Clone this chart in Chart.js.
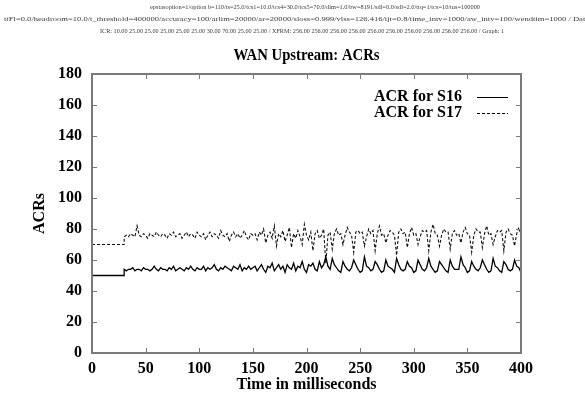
<!DOCTYPE html>
<html>
<head>
<meta charset="utf-8">
<script src="https://cdn.jsdelivr.net/npm/chart.js@4"></script>
<style>
  html, body { margin: 0; padding: 0; background: #fff; }
  #wrap { width: 585px; height: 396px; }
</style>
</head>
<body>
<div id="wrap"><canvas id="acrChart" width="585" height="396"></canvas></div>
<script>
// header lines printed above the plot
const headerLines = [
    "epstasoption=1/option b=110/ts=25.0/tcs1=10.0/tcs4=30.0/tcs5=70.0/dim=1.0/bw=8191/sdl=0.0/sdl=2.0/ttq=1/tcs=10/tus=100000",
    "ttFl=0.0/headroom=10.0/t_threshold=400000/accuracy=100/arlim=20000/ar=20000/sloss=0.999/vlss=126.416/ijt=0.8/time_intv=1000/aw_intv=100/wendtim=1000 / Date:05",
    "ICR: 10.00 25.00 25.00 25.00 25.00 25.00 30.00 70.00 25.00 25.00 / XFRM: 256.00 256.00 256.00 256.00 256.00 256.00 256.00 256.00 256.00 256.00 / Graph: 1"
];
const chartTitle = "WAN Upstream: ACRs";
const seriesNames = ["ACR for S16", "ACR for S17"];
const xTicks = [0, 50, 100, 150, 200, 250, 300, 350, 400];
const yTicks = [0, 20, 40, 60, 80, 100, 120, 140, 160, 180];

// sample times (ms): start, step at 30, then every 2 ms
const timeMs = [0, 30];
for (let t = 30; t <= 400; t += 2) timeMs.push(t);

const acrS16 = [50, 50,
    54,53,54,54,55,53,54,54,53,55,
    54,54,53,54,56,54,53,55,54,54,
    53,55,54,56,53,54,55,54,53,55,
    54,56,54,53,55,54,54,56,53,55,
    54,55,57,54,53,55,54,56,55,54,
    53,56,55,54,57,53,55,54,56,54,
    55,
    56,53,55,57,54,52,56,55,58,53,
    55,57,54,56,52,57,55,54,58,53,
    56,55,59,54,52,57,56,58,54,53,
    59,55,57,62,56,
    54,61,57,55,53,
    52,59,56,54,53,
    55,60,57,54,52,
    53,62,56,55,53,
    54,59,57,54,52,
    53,60,56,55,54,
    52,61,57,54,53,
    54,59,56,55,52,
    53,60,57,54,53,
    55,61,56,54,52,
    53,59,57,55,53,
    52,60,56,54,54,
    54,62,57,55,52,
    53,59,56,54,53,
    55,60,57,54,52,
    53,61,56,55,53,
    52,59,57,54,53,
    54,60,56,55,52
];

const acrS17 = [70, 70,
    75,76,75,77,76,75,82,76,75,77,
    76,74,77,76,75,78,76,75,77,76,
    74,77,76,78,75,76,77,74,76,78,
    75,77,76,74,78,76,75,77,73,76,
    78,75,77,76,74,79,76,75,77,72,
    76,78,75,77,74,76,79,75,73,77,
    76,
    77,73,78,76,80,71,76,78,74,82,
    69,77,75,79,72,76,81,68,77,74,
    79,75,70,83,76,73,78,66,77,79,
    74,76,80,58,76,
    78,67,77,80,76,
    77,70,76,81,78,
    76,65,78,79,77,
    78,69,75,80,77,
    79,66,77,82,76,
    77,71,76,79,78,
    76,63,78,80,77,
    78,68,77,81,76,
    77,70,75,79,78,
    79,66,78,83,77,
    76,69,76,80,78,
    78,67,77,79,76,
    77,71,78,81,77,
    76,65,76,80,78,
    78,68,77,82,76,
    77,70,75,79,78,
    79,66,78,80,77,
    76,69,77,81,76
];

const serif = "'Liberation Serif', 'DejaVu Serif', serif";
const frameColor = '#7a7a7a';

/**
 * Writes one line of text stretched or squeezed to a given width.
 */
function fillFitted(ctx, text, x, y, width) {
    const w = ctx.measureText(text).width;
    ctx.save();
    ctx.translate(x, y);
    ctx.scale(width / w, 1);
    ctx.textAlign = 'left';
    ctx.fillText(text, 0, 0);
    ctx.restore();
}

/**
 * Draws frame, inward ticks, header text, title and legend.
 */
const gnuplotLook = {
    id: 'gnuplotLook',
    afterDraw(chart) {
        const ctx = chart.ctx;
        const area = chart.chartArea;
        const xs = chart.scales.x;
        const ys = chart.scales.y;
        ctx.save();

        // frame
        ctx.strokeStyle = frameColor;
        ctx.lineWidth = 2;
        ctx.strokeRect(area.left, area.top, area.right - area.left, area.bottom - area.top);

        // ticks pointing inward on all four sides
        ctx.lineWidth = 1;
        ctx.beginPath();
        xTicks.forEach(v => {
            const px = Math.round(xs.getPixelForValue(v)) + 0.5;
            ctx.moveTo(px, area.bottom); ctx.lineTo(px, area.bottom - 5);
            ctx.moveTo(px, area.top); ctx.lineTo(px, area.top + 5);
        });
        yTicks.forEach(v => {
            const py = Math.round(ys.getPixelForValue(v)) + 0.5;
            ctx.moveTo(area.left, py); ctx.lineTo(area.left + 5, py);
            ctx.moveTo(area.right, py); ctx.lineTo(area.right - 5, py);
        });
        ctx.stroke();

        // header lines
        ctx.fillStyle = '#3a3a3a';
        ctx.textBaseline = 'middle';
        ctx.font = "6px " + serif;
        fillFitted(ctx, headerLines[0], 150, 7, 330);
        fillFitted(ctx, headerLines[1], 4, 19, 596);
        fillFitted(ctx, headerLines[2], 100, 31, 404);

        // title
        ctx.fillStyle = '#000';
        ctx.textAlign = 'center';
        ctx.font = "bold 17px " + serif;
        ctx.fillText(chartTitle, (area.left + area.right) / 2, 56, 146);

        // legend inside plot, top right
        ctx.font = "bold 16px " + serif;
        ctx.textAlign = 'right';
        const rows = [97, 113];
        chart.data.datasets.forEach((ds, i) => {
            ctx.fillStyle = '#000';
            ctx.fillText(seriesNames[i], 462, rows[i]);
            ctx.strokeStyle = '#000';
            ctx.lineWidth = 1;
            ctx.setLineDash(ds.borderDash || []);
            ctx.beginPath();
            ctx.moveTo(477, rows[i] + 0.5);
            ctx.lineTo(508, rows[i] + 0.5);
            ctx.stroke();
            ctx.setLineDash([]);
        });
        ctx.restore();
    }
};

new Chart(document.getElementById('acrChart'), {
    type: 'line',
    data: {
        datasets: [
            {
                label: seriesNames[0],
                data: timeMs.map((t, i) => ({x: t, y: acrS16[i]})),
                borderColor: '#000',
                borderWidth: 1.3,
                pointRadius: 0,
                tension: 0
            },
            {
                label: seriesNames[1],
                data: timeMs.map((t, i) => ({x: t, y: acrS17[i]})),
                borderColor: '#111',
                borderWidth: 1.1,
                borderDash: [3, 2],
                pointRadius: 0,
                tension: 0
            }
        ]
    },
    options: {
        responsive: false,
        animation: false,
        layout: { padding: { top: 74, right: 64, left: 0, bottom: 0 } },
        plugins: {
            legend: { display: false },
            tooltip: { enabled: false },
            title: { display: false }
        },
        scales: {
            x: {
                type: 'linear',
                min: 0,
                max: 400,
                grid: { display: false, drawTicks: false },
                border: { display: false },
                afterFit: s => { s.height = 43; },
                afterBuildTicks: s => { s.ticks = xTicks.map(v => ({value: v})); },
                ticks: {
                    color: '#000',
                    padding: 6,
                    maxRotation: 0,
                    font: { family: serif, size: 16, weight: 'bold' }
                },
                title: {
                    display: true,
                    text: 'Time in milliseconds',
                    color: '#000',
                    padding: { top: 0, bottom: 2 },
                    font: { family: serif, size: 16, weight: 'bold' }
                }
            },
            y: {
                min: 0,
                max: 180,
                grid: { display: false, drawTicks: false },
                border: { display: false },
                afterFit: s => { s.width = 92; },
                afterBuildTicks: s => { s.ticks = yTicks.map(v => ({value: v})); },
                ticks: {
                    color: '#000',
                    padding: 10,
                    font: { family: serif, size: 16, weight: 'bold' }
                },
                title: {
                    display: true,
                    text: 'ACRs',
                    color: '#000',
                    padding: { top: 30, bottom: 0 },
                    font: { family: serif, size: 16, weight: 'bold' }
                }
            }
        }
    },
    plugins: [gnuplotLook]
});
</script>
</body>
</html>
